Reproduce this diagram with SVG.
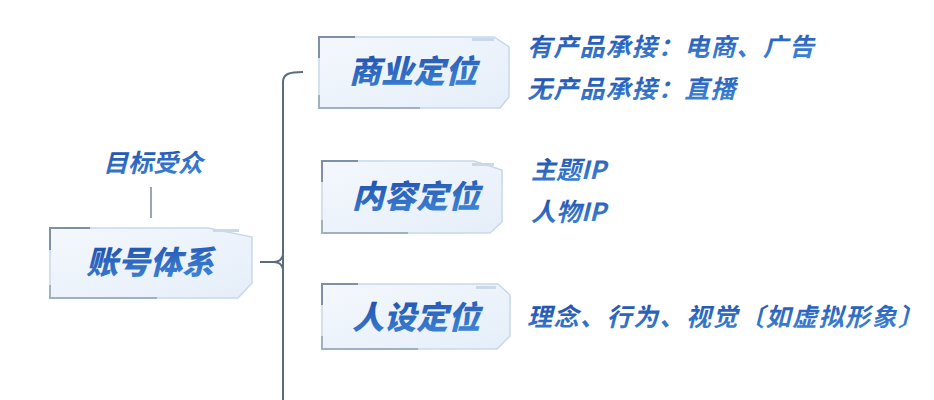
<svg xmlns="http://www.w3.org/2000/svg" width="934" height="400" viewBox="0 0 934 400">
<defs>
<linearGradient id="tg" x1="0" y1="0" x2="0.3" y2="1">
<stop offset="0" stop-color="#1b45a3"/>
<stop offset="1" stop-color="#3c82d4"/>
</linearGradient>
<linearGradient id="bg" x1="0" y1="0" x2="1" y2="1">
<stop offset="0" stop-color="#f4f8fd"/>
<stop offset="1" stop-color="#e5eef9"/>
</linearGradient>
<style>
.box{fill:url(#bg);stroke:#c9d7ea;stroke-width:1.5}
.acc{fill:none;stroke:#7d90a8;stroke-width:2}
.dec{fill:#cbd8ea}
.main{font-family:"Noto Sans CJK SC","Noto Sans",sans-serif;font-style:italic;font-weight:900;font-size:32px;fill:url(#tg);text-anchor:middle}
.sub{font-family:"Noto Sans CJK SC","Noto Sans",sans-serif;font-style:italic;font-weight:700;font-size:25px;fill:url(#tg)}
.conn{fill:none;stroke:#5d6b80;stroke-width:2}
</style>
</defs>
<rect width="934" height="400" fill="#ffffff"/>
<g id="connectors">
<path class="conn" d="M303,72 C289,72 283,74 283,82 L283,400"/>
<path class="conn" d="M260,262 L274,262 C279,262 282,259 283,255 M274,262 C279,262 282,265 283,269"/>
<path d="M151,187 L151,218" fill="none" stroke="#7b8797" stroke-width="1.5"/>
</g>
<g id="n-audience">
<text class="sub" x="153" y="172" text-anchor="middle" font-size="25">目标受众</text>
</g>
<g id="n-account">
<path class="box" d="M50,228 L208,228 L252,237 L252,283 L238,298 L50,298 Z"/>
<path class="acc" d="M90,228 L50,228 L50,250"/>
<path class="acc" d="M50,285 L50,298 L157,298" stroke-opacity="0.6"/>
<rect class="dec" x="213" y="229" width="26" height="3"/>
<text class="main" x="150" y="274">账号体系</text>
</g>
<g id="n-business">
<path class="box" d="M319,37 L494,37 L509,47 L509,97 L500,108 L319,108 Z"/>
<path class="acc" d="M355,37 L319,37 L319,58"/>
<path class="acc" d="M319,95 L319,108 L420,108" stroke-opacity="0.6"/>
<rect class="dec" x="472" y="38" width="22" height="3"/>
<text class="main" x="413" y="83">商业定位</text>
</g>
<g id="n-content">
<path class="box" d="M322,161 L474,161 L502,170 L502,222 L490,233 L322,233 Z"/>
<path class="acc" d="M358,161 L322,161 L322,182"/>
<path class="acc" d="M322,220 L322,233 L408,233" stroke-opacity="0.6"/>
<rect class="dec" x="472" y="163" width="22" height="3"/>
<text class="main" x="416" y="208">内容定位</text>
</g>
<g id="n-persona">
<path class="box" d="M322,284 L498,284 L510,295 L510,336 L497,349 L322,349 Z"/>
<path class="acc" d="M358,284 L322,284 L322,305"/>
<path class="acc" d="M322,336 L322,349 L418,349" stroke-opacity="0.6"/>
<rect class="dec" x="476" y="286" width="20" height="3"/>
<text class="main" x="416" y="329">人设定位</text>
</g>
<g id="t-business">
<text class="sub" x="527" y="56" font-size="26" letter-spacing="1.2">有产品承接：电商、广告</text>
<text class="sub" x="527" y="98" font-size="26" letter-spacing="1.2">无产品承接：直播</text>
</g>
<g id="t-content">
<text class="sub" x="531" y="179" font-size="24">主题IP</text>
<text class="sub" x="531" y="221" font-size="24">人物IP</text>
</g>
<g id="t-persona">
<text class="sub" x="527" y="326" font-size="25" letter-spacing="1.5">理念、行为、视觉〔如虚拟形象〕</text>
</g>
</svg>
